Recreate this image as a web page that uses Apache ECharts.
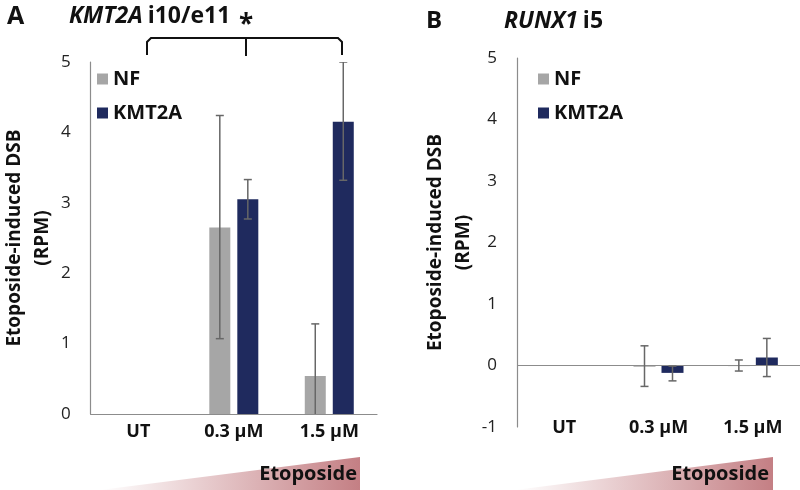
<!DOCTYPE html>
<html><head><meta charset="utf-8">
<script src="https://cdn.jsdelivr.net/npm/echarts@6/dist/echarts.min.js"></script>
<style>html,body{margin:0;padding:0;background:#fff}#c{width:800px;height:490px}</style>
</head><body><div id="c"></div>
<script>
// ---- data ----
const categories = ['UT', '0.3 µM', '1.5 µM'];
const yTicksA = [0, 5, 1];      // min, max, interval
const yTicksB = [-1, 5, 1];
// Panel A: KMT2A i10/e11
const nfA = [0, 2.65, 0.54];
const nfALow = [null, 1.07, -0.2];
const nfAHigh = [null, 4.24, 1.28];
const kmtA = [0, 3.05, 4.15];
const kmtALow = [null, 2.77, 3.32];
const kmtAHigh = [null, 3.33, 5.0];
// Panel B: RUNX1 i5
const nfB = [0, -0.02, -0.01];
const nfBLow = [null, -0.34, -0.09];
const nfBHigh = [null, 0.32, 0.09];
const kmtB = [0, -0.12, 0.13];
const kmtBLow = [null, -0.25, -0.18];
const kmtBHigh = [null, -0.01, 0.44];

// ---- style ----
const FONT = '"Open Sans", "DejaVu Sans", sans-serif';
const C_NF = '#a6a6a6', C_KMT = '#1f2a5e', C_AX = '#8c8c8c', C_ERR = '#676767';
const BW_A = 21, GAP_A = 7, BW_B = 22, GAP_B = 6;

function errData(lo, hi) {
  const out = [];
  lo.forEach((v, i) => { if (v !== null) out.push([i, v, hi[i]]); });
  return out;
}
function errRender(offset) {
  return function (params, api) {
    const c = api.value(0), lo = api.value(1), hi = api.value(2);
    const pLo = api.coord([c, lo]), pHi = api.coord([c, hi]);
    const x = pLo[0] + offset, w = 4;
    const style = { stroke: C_ERR, lineWidth: 1.5 };
    return { type: 'group', children: [
      { type: 'line', shape: { x1: x, y1: pHi[1], x2: x, y2: pLo[1] }, style },
      { type: 'line', shape: { x1: x - w, y1: pHi[1], x2: x + w, y2: pHi[1] }, style },
      { type: 'line', shape: { x1: x - w, y1: pLo[1], x2: x + w, y2: pLo[1] }, style }
    ]};
  };
}
function yAxis(idx, ticks, gap) {
  return {
    type: 'value', gridIndex: idx, min: ticks[0], max: ticks[1], interval: ticks[2],
    axisLine: { show: true, lineStyle: { color: C_AX, width: 1.2 } },
    axisTick: { show: false }, splitLine: { show: false },
    axisLabel: { margin: 20, fontFamily: FONT, fontSize: 17, color: '#222' },
    name: 'Etoposide-induced DSB\n(RPM)', nameLocation: 'middle', nameRotate: 90, nameGap: gap,
    nameTextStyle: { fontFamily: FONT, fontSize: 19, fontWeight: 'bold', color: '#111', lineHeight: 28 }
  };
}
const legendBase = {
  orient: 'vertical', itemWidth: 11, itemHeight: 11, itemGap: 10, icon: 'rect',
  data: ['NF', 'KMT2A'],
  textStyle: { fontFamily: FONT, fontSize: 20, fontWeight: 'bold', color: '#111', lineHeight: 24, padding: [0, 0, 0, 0] }
};
const titleRich = {
  i: { fontFamily: FONT, fontSize: 23, fontWeight: 'bold', fontStyle: 'italic', color: '#111' },
  b: { fontFamily: FONT, fontSize: 23, fontWeight: 'bold', color: '#111' }
};

const chart = echarts.init(document.getElementById('c'), null, { renderer: 'canvas' });
chart.setOption({
  animation: false,
  title: [
    { text: 'A', left: 2, top: -1, textStyle: { fontFamily: FONT, fontSize: 25, fontWeight: 'bold', color: '#111' } },
    { text: '{i|KMT2A} {b|i10/e11}', left: 64, top: 0, textStyle: { rich: titleRich } },
    { text: 'B', left: 421, top: 4, textStyle: { fontFamily: FONT, fontSize: 24, fontWeight: 'bold', color: '#111' } },
    { text: '{i|RUNX1} {b|i5}', left: 499, top: 5, textStyle: { rich: titleRich } }
  ],
  legend: [
    Object.assign({ left: 92, top: 62 }, legendBase),
    Object.assign({ left: 533, top: 62 }, legendBase)
  ],
  grid: [
    { left: 88, top: 62, width: 289, height: 352 },
    { left: 517, top: 58, width: 291, height: 369 }
  ],
  xAxis: [
    { type: 'category', gridIndex: 0, data: categories,
      axisLine: { lineStyle: { color: C_AX, width: 1.2 } }, axisTick: { show: false },
      axisLabel: { margin: 9, fontFamily: FONT, fontSize: 18, fontWeight: 'bold', color: '#111' } },
    { type: 'category', gridIndex: 1, data: categories,
      axisLine: { show: false, onZero: false }, axisTick: { show: false },
      axisLabel: { margin: 1, verticalAlign: 'middle', fontFamily: FONT, fontSize: 18, fontWeight: 'bold', color: '#111' } }
  ],
  yAxis: [ yAxis(0, yTicksA, 32), yAxis(1, yTicksB, 39) ],
  series: [
    { name: 'NF', type: 'bar', xAxisIndex: 0, yAxisIndex: 0, data: nfA, barWidth: BW_A, barGap: (GAP_A / BW_A * 100) + '%',
      itemStyle: { color: C_NF } },
    { name: 'KMT2A', type: 'bar', xAxisIndex: 0, yAxisIndex: 0, data: kmtA, barWidth: BW_A,
      itemStyle: { color: C_KMT } },
    { type: 'custom', xAxisIndex: 0, yAxisIndex: 0, clip: true, renderItem: errRender(-(BW_A + GAP_A) / 2), data: errData(nfALow, nfAHigh), z: 5 },
    { type: 'custom', xAxisIndex: 0, yAxisIndex: 0, clip: true, renderItem: errRender((BW_A + GAP_A) / 2), data: errData(kmtALow, kmtAHigh), z: 5 },
    { name: 'NF', type: 'bar', xAxisIndex: 1, yAxisIndex: 1, data: nfB, barWidth: BW_B, barGap: (GAP_B / BW_B * 100) + '%',
      itemStyle: { color: C_NF },
      markLine: { silent: true, symbol: 'none', label: { show: false }, lineStyle: { color: C_AX, width: 1.2, type: 'solid' }, data: [{ yAxis: 0 }] } },
    { name: 'KMT2A', type: 'bar', xAxisIndex: 1, yAxisIndex: 1, data: kmtB, barWidth: BW_B,
      itemStyle: { color: C_KMT } },
    { type: 'custom', xAxisIndex: 1, yAxisIndex: 1, clip: true, renderItem: errRender(-(BW_B + GAP_B) / 2), data: errData(nfBLow, nfBHigh), z: 5 },
    { type: 'custom', xAxisIndex: 1, yAxisIndex: 1, clip: true, renderItem: errRender((BW_B + GAP_B) / 2), data: errData(kmtBLow, kmtBHigh), z: 5 }
  ],
  graphic: [
    // significance bracket
    { type: 'polyline', shape: { points: [[147, 55], [147, 42], [151, 38], [338, 38], [342, 42], [342, 55]] },
      style: { stroke: '#111', lineWidth: 2, fill: null } },
    { type: 'line', shape: { x1: 246, y1: 38, x2: 246, y2: 56 }, style: { stroke: '#111', lineWidth: 2 } },
    { type: 'text', left: 239, top: 13, style: { text: '*', font: 'bold 26px ' + FONT, fill: '#111' } },
    // etoposide gradient wedges
    { type: 'polygon', shape: { points: [[100, 490], [360, 457], [360, 490]] },
      style: { fill: new echarts.graphic.LinearGradient(0, 0, 1, 0, [{ offset: 0, color: '#ffffff' }, { offset: 1, color: '#c47f84' }]) } },
    { type: 'text', right: 800 - 357, top: 464, style: { text: 'Etoposide', font: 'bold 20px ' + FONT, fill: '#111' } },
    { type: 'polygon', shape: { points: [[515, 490], [773, 457], [773, 490]] },
      style: { fill: new echarts.graphic.LinearGradient(0, 0, 1, 0, [{ offset: 0, color: '#ffffff' }, { offset: 1, color: '#c47f84' }]) } },
    { type: 'text', right: 800 - 769, top: 464, style: { text: 'Etoposide', font: 'bold 20px ' + FONT, fill: '#111' } }
  ]
});
</script>
</body></html>
